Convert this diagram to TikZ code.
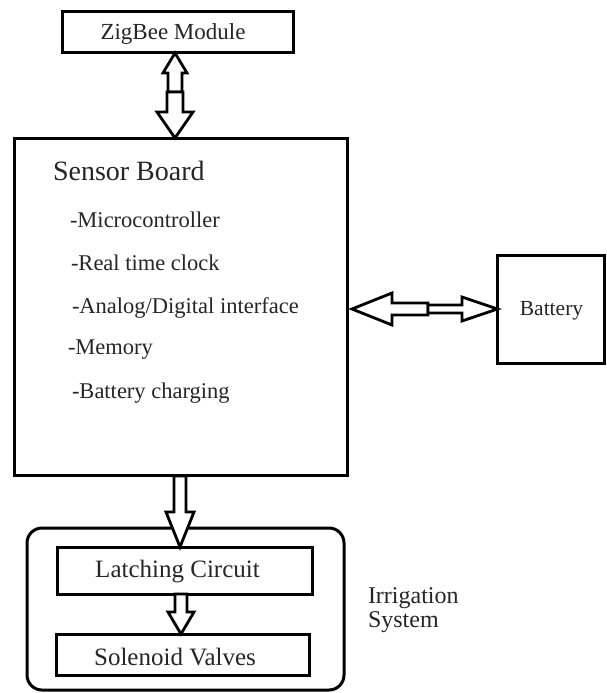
\documentclass[tikz,border=0pt]{standalone}
\usepackage{fontspec}
\setmainfont{Liberation Serif}
\begin{document}
\begin{tikzpicture}[x=1pt,y=-1pt,
  box/.style={draw=black,line width=3pt,fill=white,inner sep=0pt,outer sep=0pt},
  blockarrow/.style={draw=black,line width=2.8pt,fill=white,line join=miter},
  txt/.style={inner sep=0pt,outer sep=0pt,anchor=base west,text=black!85},
  ctxt/.style={inner sep=0pt,outer sep=0pt,anchor=base,text=black!85}]
\useasboundingbox[fill=white] (0,0) rectangle (606,693);

% boxes
\node[box,minimum width=231pt,minimum height=41pt] (zig) at (177.5,32.5) {};
\node[box,minimum width=333pt,minimum height=337pt] (board) at (180.5,306.5) {};
\node[box,minimum width=107pt,minimum height=108pt] (bat) at (551,309) {};
\node[box,rounded corners=15pt,minimum width=317pt,minimum height=162pt] (irr) at (185.5,609) {};
\node[box,minimum width=255pt,minimum height=47pt] (latch) at (184.5,570.5) {};
\node[box,minimum width=253pt,minimum height=41pt] (sol) at (182.5,654.5) {};

% texts
\node[ctxt,font=\fontsize{23}{27}\selectfont] (zigt) at (173,40) {ZigBee Module};
\node[txt,font=\fontsize{28}{32}\selectfont] (bt) at (53,180) {Sensor Board};
\node[txt,font=\fontsize{22.5}{26}\selectfont] (i1) at (70,227) {-Microcontroller};
\node[txt,font=\fontsize{22.5}{26}\selectfont] (i2) at (71,270) {-Real time clock};
\node[txt,font=\fontsize{22.5}{26}\selectfont] (i3) at (72,313) {-Analog/Digital interface};
\node[txt,font=\fontsize{22.5}{26}\selectfont] (i4) at (68,354) {-Memory};
\node[txt,font=\fontsize{22.5}{26}\selectfont] (i5) at (72,398) {-Battery charging};
\node[ctxt,font=\fontsize{21.5}{25}\selectfont] (batt) at (551.5,315) {Battery};
\node[ctxt,font=\fontsize{25}{29}\selectfont] (latcht) at (177.5,577) {Latching Circuit};
\node[ctxt,font=\fontsize{25}{29}\selectfont] (solt) at (175,665) {Solenoid Valves};
\node[txt,font=\fontsize{24}{24}\selectfont] (irt1) at (368,603) {Irrigation};
\node[txt,font=\fontsize{24}{24}\selectfont] (irt2) at (368,627) {System};

% block arrows: ZigBee <-> Sensor Board
\draw[blockarrow] (zig.south -| 175,0) -- (187,73) -- (182,73) -- (182,92) -- (168,92) -- (168,73) -- (163,73) -- cycle;
\draw[blockarrow] (167,92) -- (183,92) -- (183,112) -- (193,112) -- (board.north -| 175,0) -- (157,112) -- (167,112) -- cycle;

% Sensor Board <-> Battery
\draw[blockarrow] (352,309) -- (392,293) -- (392,303) -- (428,303) -- (428,315) -- (392,315) -- (392,325) -- cycle;
\draw[blockarrow] (428,305) -- (462,305) -- (462,297) -- (bat.west) -- (462,321) -- (462,313) -- (428,313) -- cycle;

% Sensor Board -> Latching Circuit
\draw[blockarrow] (174,476) -- (186,476) -- (186,512) -- (194,512) -- (latch.north -| 180,0) -- (166,512) -- (174,512) -- cycle;

% Latching Circuit -> Solenoid Valves
\draw[blockarrow] (175,594) -- (187,594) -- (187,612) -- (194,612) -- (sol.north -| 181,0) -- (168,612) -- (175,612) -- cycle;
\end{tikzpicture}
\end{document}
